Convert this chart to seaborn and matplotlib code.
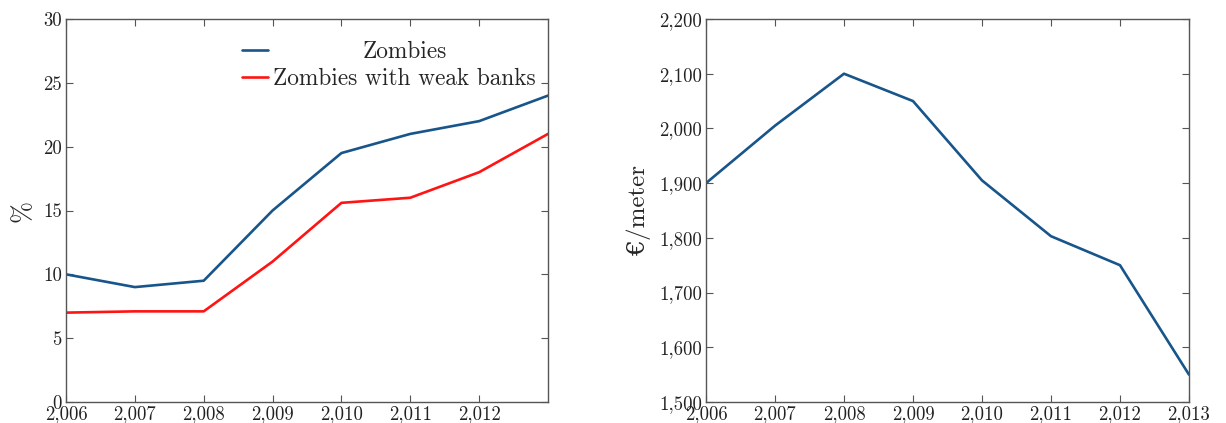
import matplotlib
matplotlib.use("Agg")
import matplotlib.pyplot as plt
from matplotlib.ticker import FuncFormatter, FixedLocator
from matplotlib.transforms import Affine2D
import seaborn as sns
import pandas as pd

# Share of zombie firms (%)
years = [2006, 2007, 2008, 2009, 2010, 2011, 2012, 2013]
zombies = [10.0, 9.0, 9.5, 15.0, 19.5, 21.0, 22.0, 24.0]
zombies_weak_banks = [7.0, 7.1, 7.1, 11.0, 15.6, 16.0, 18.0, 21.0]

# Price per square meter (EUR)
price_years = [2006, 2007, 2008, 2009, 2010, 2011, 2012, 2013]
price_per_meter = [1900, 2005, 2100, 2050, 1905, 1803, 1750, 1550]

left_xticks = [2006, 2007, 2008, 2009, 2010, 2011, 2012]
right_xticks = [2006, 2007, 2008, 2009, 2010, 2011, 2012, 2013]
left_yticks = [0, 5, 10, 15, 20, 25, 30]
right_yticks = [1500, 1600, 1700, 1800, 1900, 2000, 2100, 2200]

BLUE = "#17558a"
RED = "#ff1414"
AXIS = "#555555"

sns.set_theme(style="ticks")
plt.rcParams["font.family"] = ["cmr10", "DejaVu Serif"]
plt.rcParams["axes.formatter.use_mathtext"] = True
plt.rcParams["mathtext.fontset"] = "cm"

fig = plt.figure(figsize=(12.26, 4.23), dpi=100)
ax1 = fig.add_axes([66 / 1226, 1 - 402 / 423, (548 - 66) / 1226, (402 - 19) / 423])
ax2 = fig.add_axes([706 / 1226, 1 - 402 / 423, (1189 - 706) / 1226, (402 - 19) / 423])

df_left = pd.DataFrame({
    "year": years * 2,
    "value": zombies + zombies_weak_banks,
    "series": ["Zombies"] * len(years) + ["Zombies with weak banks"] * len(years),
})
sns.lineplot(data=df_left, x="year", y="value", hue="series",
             palette=[BLUE, RED], linewidth=1.9, ax=ax1, legend=False)

df_right = pd.DataFrame({"year": price_years, "price": price_per_meter})
sns.lineplot(data=df_right, x="year", y="price", color=BLUE, linewidth=1.9, ax=ax2)

comma = FuncFormatter(lambda v, _: f"{v:,.0f}")

for ax, xt, yt, ylim in ((ax1, left_xticks, left_yticks, (0, 30)),
                         (ax2, right_xticks, right_yticks, (1500, 2200))):
    ax.set_xlim(2006, 2013)
    ax.set_ylim(*ylim)
    ax.xaxis.set_major_locator(FixedLocator(xt))
    ax.yaxis.set_major_locator(FixedLocator(yt))
    ax.xaxis.set_major_formatter(comma)
    ax.yaxis.set_major_formatter(comma)
    ax.tick_params(direction="in", length=5, width=0.8, color=AXIS,
                   top=True, right=True, labelsize=13.5, labelcolor="#222222",
                   pad=3)
    ax.tick_params(axis="x", pad=2)
    for sp in ax.spines.values():
        sp.set_visible(True)
        sp.set_color(AXIS)
        sp.set_linewidth(1.0)
    ax.set_xlabel("")

ax1.set_ylabel("%", fontsize=19, labelpad=6)
ax2.set_ylabel("€/meter", fontsize=18, labelpad=6)

# Legend: handles on the left, labels centred in their column
handles = ax1.get_lines()[:2]
leg = ax1.legend(handles, ["Zombies", "Zombies with weak banks"],
                 loc="upper right", bbox_to_anchor=(0.985, 0.955), frameon=False,
                 fontsize=16.8, handlelength=1.1, handletextpad=0.25,
                 labelspacing=0.2, borderaxespad=0, borderpad=0.2)
fig.canvas.draw()
renderer = fig.canvas.get_renderer()
widths = [t.get_window_extent(renderer).width for t in leg.get_texts()]
wmax = max(widths)
for t, w in zip(leg.get_texts(), widths):
    t.set_transform(t.get_transform() + Affine2D().translate((wmax - w) / 2, 0))

fig.savefig("out.png", dpi=100, facecolor="white")
